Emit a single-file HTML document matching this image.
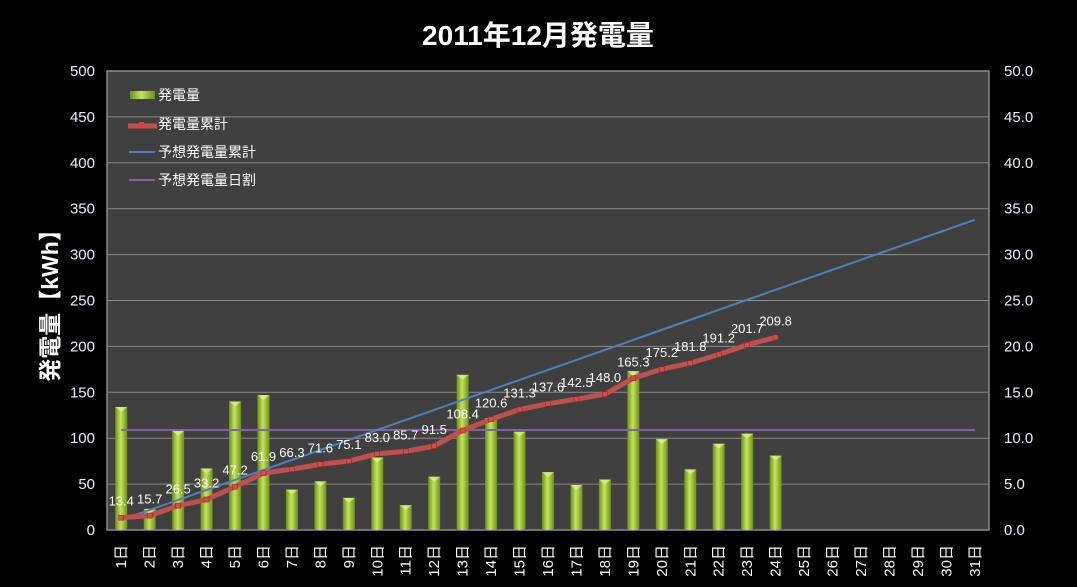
<!DOCTYPE html>
<html><head><meta charset="utf-8"><style>
body{margin:0;background:#000;}
svg text{font-family:"Liberation Sans","Noto Sans CJK JP",sans-serif;}
</style></head><body>
<svg id="chart" width="1077" height="582" xmlns="http://www.w3.org/2000/svg">
<rect x="0" y="0" width="1077" height="582" fill="#000"/>
<text x="538" y="45" text-anchor="middle" fill="#fff" font-size="28" font-weight="bold">2011年12月発電量</text>
<rect x="107" y="71" width="882" height="459" fill="#404040" stroke="#8a8a8a" stroke-width="1.5"/>
<text transform="translate(58,300) rotate(-90)" text-anchor="middle" fill="#fff" font-size="23" font-weight="bold">発電量【kWh】</text>
<defs>
<linearGradient id="barg" x1="0" x2="1" y1="0" y2="0">
<stop offset="0" stop-color="#6e8f1c"/><stop offset="0.45" stop-color="#c4e45a"/><stop offset="1" stop-color="#6e8f1c"/>
</linearGradient>
</defs>
<g id="grid"></g><g id="bars"></g><g id="lines"></g><g id="labels"></g><g id="axes"></g>
<g id="legend">
<rect x="130" y="91" width="25" height="8" fill="url(#barg)"/>
<text x="158" y="100" fill="#fff" font-size="14">発電量</text>
<line x1="128" y1="126" x2="157" y2="126" stroke="#c0504d" stroke-width="5"/>
<rect x="139" y="122" width="5" height="5" fill="#e04040"/>
<text x="158" y="129" fill="#fff" font-size="14">発電量累計</text>
<line x1="129" y1="152" x2="155" y2="152" stroke="#4f81bd" stroke-width="2"/>
<text x="158" y="157" fill="#fff" font-size="14">予想発電量累計</text>
<line x1="129" y1="180" x2="155" y2="180" stroke="#8064a2" stroke-width="2"/>
<text x="158" y="185" fill="#fff" font-size="14">予想発電量日割</text>
</g>
</svg>
<script>
const days = ["1日","2日","3日","4日","5日","6日","7日","8日","9日","10日","11日","12日","13日","14日","15日","16日","17日","18日","19日","20日","21日","22日","23日","24日","25日","26日","27日","28日","29日","30日","31日"];
const daily = [13.4,2.3,10.8,6.7,14.0,14.7,4.4,5.3,3.5,7.9,2.7,5.8,16.9,12.2,10.7,6.3,4.9,5.5,17.3,9.9,6.6,9.4,10.5,8.1];
const cumulative = [13.4,15.7,26.5,33.2,47.2,61.9,66.3,71.6,75.1,83.0,85.7,91.5,108.4,120.6,131.3,137.6,142.5,148.0,165.3,175.2,181.8,191.2,201.7,209.8];
const forecastDaily = [10.9,10.9,10.9,10.9,10.9,10.9,10.9,10.9,10.9,10.9,10.9,10.9,10.9,10.9,10.9,10.9,10.9,10.9,10.9,10.9,10.9,10.9,10.9,10.9,10.9,10.9,10.9,10.9,10.9,10.9,10.9];
const forecastCumulative = [10.9,21.8,32.7,43.6,54.5,65.4,76.3,87.2,98.1,109.0,119.9,130.8,141.7,152.6,163.5,174.4,185.3,196.2,207.1,218.0,228.9,239.8,250.7,261.6,272.5,283.4,294.3,305.2,316.1,327.0,337.9];
const leftTicks = ["0","50","100","150","200","250","300","350","400","450","500"];
const rightTicks = ["0.0","5.0","10.0","15.0","20.0","25.0","30.0","35.0","40.0","45.0","50.0"];

const NS="http://www.w3.org/2000/svg";
const X0=107,X1=989,Y0=530,Y1=71;
const slot=(X1-X0)/days.length;
const xPos=i=>X0+slot*(i+0.5);
const yL=v=>Y0-(v/500)*(Y0-Y1);
const yR=v=>Y0-(v/50)*(Y0-Y1);
function mk(tag,attrs,parent){const e=document.createElementNS(NS,tag);for(const k in attrs)e.setAttribute(k,attrs[k]);document.getElementById(parent).appendChild(e);return e;}

leftTicks.forEach((t,i)=>{
  const v=+t,y=yL(v);
  if(v>0&&v<500){const g=mk('line',{x1:X0,x2:X1,y1:y,y2:y,stroke:'#8a8a8a','stroke-width':1},'grid');
  
  }
  const tl=mk('text',{x:95,y:y+5,'text-anchor':'end',fill:'#e8f0ff','font-size':15},'axes');tl.textContent=t;
  
  
});
rightTicks.forEach(t=>{
  const y=yR(+t);
  const tr=mk('text',{x:1004,y:y+5,fill:'#e8f0ff','font-size':15},'axes');tr.textContent=t;
  
  
});
days.forEach((d,i)=>{
  const x=xPos(i);
  const t=mk('text',{transform:`translate(${x+5},545) rotate(-90)`,'text-anchor':'end',fill:'#fff','font-size':15},'axes');t.textContent=d;
  
  
});
daily.forEach((v,i)=>{
  const x=xPos(i),y=yR(v);
  const b=mk('rect',{x:x-6,y:y,width:12,height:Y0-y,fill:'url(#barg)'},'bars');
  
  
  const c=mk('polygon',{points:`${x-6},${y} ${x+6},${y} ${x},${y+5}`,fill:'#e0f590',opacity:0.7},'bars');
  
  
});
const fd=mk('polyline',{points:forecastDaily.map((v,i)=>`${xPos(i)},${yR(v)}`).join(' '),fill:'none',stroke:'#8064a2','stroke-width':2},'lines');


const fc=mk('polyline',{points:forecastCumulative.map((v,i)=>`${xPos(i)},${yL(v)}`).join(' '),fill:'none',stroke:'#4f81bd','stroke-width':2},'lines');


const cl=mk('polyline',{points:cumulative.map((v,i)=>`${xPos(i)},${yL(v)}`).join(' '),fill:'none',stroke:'#c0504d','stroke-width':5,'stroke-linejoin':'round'},'lines');


cumulative.forEach((v,i)=>{
  const x=xPos(i),y=yL(v);
  const m=mk('rect',{x:x-2.5,y:y-2.5,width:5,height:5,fill:'#e04848',stroke:'#902020','stroke-width':0.5},'lines');
  
  
  const l=mk('text',{x:x,y:y-12,'text-anchor':'middle',fill:'#fff','font-size':13},'labels');l.textContent=v.toFixed(1);
  
  
});
</script>
</body></html>
